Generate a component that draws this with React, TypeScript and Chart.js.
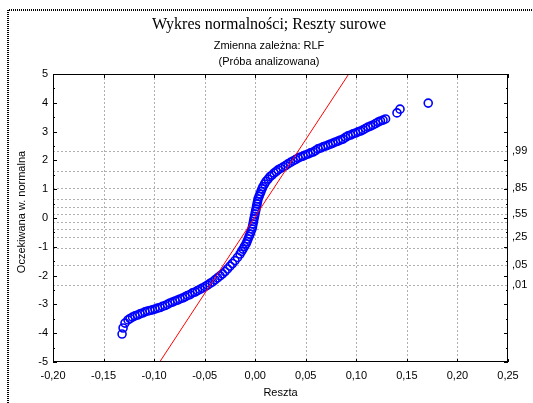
import React, { useEffect, useRef } from "react";
import { Chart, registerables } from "chart.js";

Chart.register(...registerables);

// Raw residuals (Reszta)
const residuals = [
  -0.1317, -0.1307, -0.1288, -0.1258, -0.1238, -0.1214, -0.1189, -0.1164, -0.114, -0.1115,
  -0.109, -0.1065, -0.1041, -0.1016, -0.0991, -0.0966, -0.0942, -0.0917, -0.0892, -0.0867,
  -0.0843, -0.0818, -0.0793, -0.0768, -0.0744, -0.0719, -0.0694, -0.067, -0.0645, -0.062,
  -0.0595, -0.0571, -0.0546, -0.0521, -0.0496, -0.0472, -0.0447, -0.0422, -0.0398, -0.0373,
  -0.0348, -0.0323, -0.0299, -0.0274, -0.0249, -0.0225, -0.02, -0.0175, -0.015,
  -0.0135, -0.0121, -0.0106, -0.0091, -0.0081, -0.0071, -0.0061, -0.0051, -0.0042, -0.0032,
  -0.0027, -0.0022, -0.0017, -0.0012, -0.0007, -0.0002, 0.0003, 0.0008, 0.0013, 0.0018,
  0.0023, 0.0028, 0.0038, 0.0047, 0.0057, 0.0067, 0.0077, 0.0092, 0.0107, 0.0127, 0.0146,
  0.0166, 0.0186, 0.0206, 0.0226, 0.025, 0.0275, 0.03, 0.0324, 0.0349, 0.0374,
  0.0399, 0.0423, 0.0448, 0.0473, 0.0497, 0.0522, 0.0547, 0.0572, 0.0596, 0.0621,
  0.0646, 0.0671, 0.0695, 0.072, 0.0745, 0.0769, 0.0794, 0.0819, 0.0844, 0.0868,
  0.0893, 0.0918, 0.0943, 0.0967, 0.0992, 0.1017, 0.1041, 0.1066, 0.1091, 0.1116,
  0.114, 0.1165, 0.119, 0.1215, 0.1239, 0.1264, 0.1289, 0.1402, 0.1432, 0.1711,
];
// Expected normal values (Oczekiwana w. normalna)
const expectedNormal = [
  -4.03, -3.82, -3.65, -3.54, -3.49, -3.44, -3.4, -3.37, -3.33, -3.3,
  -3.26, -3.23, -3.21, -3.19, -3.16, -3.13, -3.11, -3.07, -3.04, -3.0,
  -2.95, -2.92, -2.88, -2.85, -2.81, -2.78, -2.74, -2.69, -2.66, -2.6,
  -2.57, -2.52, -2.48, -2.43, -2.38, -2.33, -2.27, -2.22, -2.15, -2.08,
  -2.01, -1.94, -1.86, -1.77, -1.67, -1.58, -1.48, -1.37, -1.25,
  -1.16, -1.08, -0.99, -0.9, -0.82, -0.73, -0.64, -0.56, -0.47, -0.38,
  -0.3, -0.21, -0.12, -0.03, 0.05, 0.14, 0.23, 0.31, 0.4, 0.49,
  0.57, 0.66, 0.75, 0.83, 0.92, 1.01, 1.09, 1.18, 1.27, 1.35, 1.44,
  1.49, 1.56, 1.61, 1.67, 1.72, 1.77, 1.82, 1.88, 1.93, 1.98,
  2.03, 2.08, 2.12, 2.15, 2.19, 2.22, 2.26, 2.29, 2.34, 2.4,
  2.43, 2.47, 2.5, 2.53, 2.57, 2.6, 2.64, 2.67, 2.71, 2.74,
  2.8, 2.85, 2.88, 2.92, 2.95, 2.99, 3.02, 3.06, 3.11, 3.16,
  3.19, 3.23, 3.28, 3.33, 3.37, 3.4, 3.44, 3.65, 3.78, 3.99,
];

// Reference (normal) line end points
const refLineX = [-0.0945, 0.0925];
const refLineY = [-5, 5];

// Axes
const xMin = -0.2, xMax = 0.25, xStep = 0.05;
const yMin = -5, yMax = 5, yStep = 1;

// Probability grid (right axis)
const probLevels = [0.01, 0.05, 0.15, 0.25, 0.35, 0.45, 0.55, 0.65, 0.75, 0.85, 0.95, 0.99];
const probZ = [-2.326, -1.645, -1.036, -0.674, -0.385, -0.126, 0.126, 0.385, 0.674, 1.036, 1.645, 2.326];
const probLabeled = [0.01, 0.05, 0.25, 0.55, 0.85, 0.99];

const titleText = "Wykres normalności; Reszty surowe";
const subtitle1 = "Zmienna zależna: RLF";
const subtitle2 = "(Próba analizowana)";
const yTitle = "Oczekiwana w. normalna";
const xTitle = "Reszta";

const SANS = '"Liberation Sans", Arial, sans-serif';
const SERIF = '"Liberation Serif", "Times New Roman", serif';

const W = 533;
const H = 403;

const fmt = (v: number) => {
  const s = Math.abs(v) < 1e-9 ? "0.00" : v.toFixed(2);
  return s.replace(".", ",");
};

const decorPlugin = {
  id: "decor",
  beforeDatasetsDraw(chart: any) {
    const { ctx, chartArea: a, scales } = chart;
    const x = scales.x, y = scales.y;
    ctx.save();
    ctx.strokeStyle = "#b0b0b0";
    ctx.lineWidth = 1;
    ctx.setLineDash([2, 2]);
    for (const t of x.ticks) {
      if (t.value <= xMin + 1e-9 || t.value >= xMax - 1e-9) continue;
      const px = Math.round(x.getPixelForValue(t.value)) + 0.5;
      ctx.beginPath();
      ctx.moveTo(px, a.top);
      ctx.lineTo(px, a.bottom);
      ctx.stroke();
    }
    for (const z of probZ) {
      const py = Math.round(y.getPixelForValue(z)) + 0.5;
      ctx.beginPath();
      ctx.moveTo(a.left, py);
      ctx.lineTo(a.right, py);
      ctx.stroke();
    }
    ctx.restore();
  },
  afterDraw(chart: any) {
    const { ctx, chartArea: a, scales, width, height } = chart;
    const x = scales.x, y = scales.y;
    ctx.save();
    // outer dotted frame
    ctx.strokeStyle = "#000";
    ctx.lineWidth = 2;
    ctx.setLineDash([1, 1]);
    ctx.beginPath();
    ctx.moveTo(8, height);
    ctx.lineTo(8, 10);
    ctx.lineTo(width, 10);
    ctx.stroke();
    ctx.setLineDash([]);

    // plot box
    ctx.lineWidth = 1;
    ctx.strokeStyle = "#000";
    ctx.strokeRect(a.left + 0.5, a.top + 0.5, a.right - a.left - 1, a.bottom - a.top - 1);

    // ticks
    ctx.beginPath();
    for (const t of x.ticks) {
      const px = Math.round(x.getPixelForValue(t.value)) + 0.5;
      ctx.moveTo(px, a.top);
      ctx.lineTo(px, a.top + 4);
      ctx.moveTo(px, a.bottom);
      ctx.lineTo(px, a.bottom - 3);
    }
    const yt = y.ticks.map((t: any) => t.value);
    for (let i = 0; i < yt.length; i++) {
      const py = Math.round(y.getPixelForValue(yt[i])) + 0.5;
      ctx.moveTo(a.left, py);
      ctx.lineTo(a.left + 4, py);
      ctx.moveTo(a.right, py);
      ctx.lineTo(a.right - 4, py);
      if (i < yt.length - 1) {
        const pm = Math.round(y.getPixelForValue((yt[i] + yt[i + 1]) / 2)) + 0.5;
        ctx.moveTo(a.left, pm);
        ctx.lineTo(a.left + 2, pm);
        ctx.moveTo(a.right, pm);
        ctx.lineTo(a.right - 2, pm);
      }
    }
    ctx.stroke();

    // titles
    ctx.fillStyle = "#000";
    ctx.textAlign = "center";
    ctx.textBaseline = "middle";
    ctx.font = `16px ${SERIF}`;
    ctx.fillText(titleText, 269, 25);
    ctx.font = `11px ${SANS}`;
    ctx.fillText(subtitle1, 269, 46);
    ctx.fillText(subtitle2, 269, 62);
    ctx.fillText(xTitle, (a.left + a.right) / 2, 393);
    ctx.save();
    ctx.translate(22, 212);
    ctx.rotate(-Math.PI / 2);
    ctx.fillText(yTitle, 0, 0);
    ctx.restore();
    ctx.restore();
  },
};

const noGrid = { display: false, drawTicks: false, drawOnChartArea: false };

export default function App() {
  const ref = useRef<HTMLCanvasElement | null>(null);
  useEffect(() => {
    document.body.style.margin = "0";
    document.body.style.overflow = "hidden";
    if (!ref.current) return;
    const points = residuals.map((r, i) => ({ x: r, y: expectedNormal[i] }));
    const line = refLineX.map((v, i) => ({ x: v, y: refLineY[i] }));
    const chart = new Chart(ref.current, {
      type: "scatter",
      data: {
        datasets: [
          {
            type: "line",
            data: line,
            borderColor: "#ff0000",
            borderWidth: 1,
            pointRadius: 0,
            fill: false,
            order: 0,
            yAxisID: "y",
          } as any,
          {
            type: "scatter",
            data: points,
            pointStyle: "circle",
            pointRadius: 4,
            borderWidth: 1.6,
            borderColor: "#0000ff",
            backgroundColor: "rgba(0,0,0,0)",
            order: 1,
            yAxisID: "y",
          } as any,
        ],
      },
      options: {
        responsive: false,
        animation: false,
        layout: { padding: { top: 74, left: 0, right: 0, bottom: 0 } },
        plugins: {
          legend: { display: false },
          tooltip: { enabled: false },
          title: { display: false },
        },
        scales: {
          x: {
            type: "linear",
            min: xMin,
            max: xMax,
            grid: noGrid,
            border: { display: false },
            ticks: {
              stepSize: xStep,
              padding: 7,
              color: "#000",
              font: { family: SANS, size: 11 },
              maxRotation: 0,
              autoSkip: false,
              callback: (v: any) => fmt(Number(v)),
            },
            afterFit: (s: any) => {
              s.height = 41;
            },
          },
          y: {
            type: "linear",
            position: "left",
            min: yMin,
            max: yMax,
            grid: noGrid,
            border: { display: false },
            ticks: {
              stepSize: yStep,
              padding: 5,
              color: "#000",
              font: { family: SANS, size: 11 },
              autoSkip: false,
            },
            afterFit: (s: any) => {
              s.width = 53;
            },
          },
          y2: {
            type: "linear",
            position: "right",
            min: yMin,
            max: yMax,
            grid: noGrid,
            border: { display: false },
            afterBuildTicks: (s: any) => {
              s.ticks = probZ.map((z) => ({ value: z }));
            },
            ticks: {
              padding: 4,
              color: "#000",
              font: { family: SANS, size: 11 },
              autoSkip: false,
              callback: (_v: any, i: number) => {
                const p = probLevels[i];
                return probLabeled.includes(p) ? p.toFixed(2).slice(1).replace(".", ",") : "";
              },
            },
            afterFit: (s: any) => {
              s.width = 25;
            },
          },
        },
      },
      plugins: [decorPlugin],
    } as any);
    return () => chart.destroy();
  }, []);
  return (
    <div style={{ position: "fixed", left: 0, top: 0, width: W, height: H }}>
      <canvas ref={ref} width={W} height={H} style={{ display: "block" }} />
    </div>
  );
}
